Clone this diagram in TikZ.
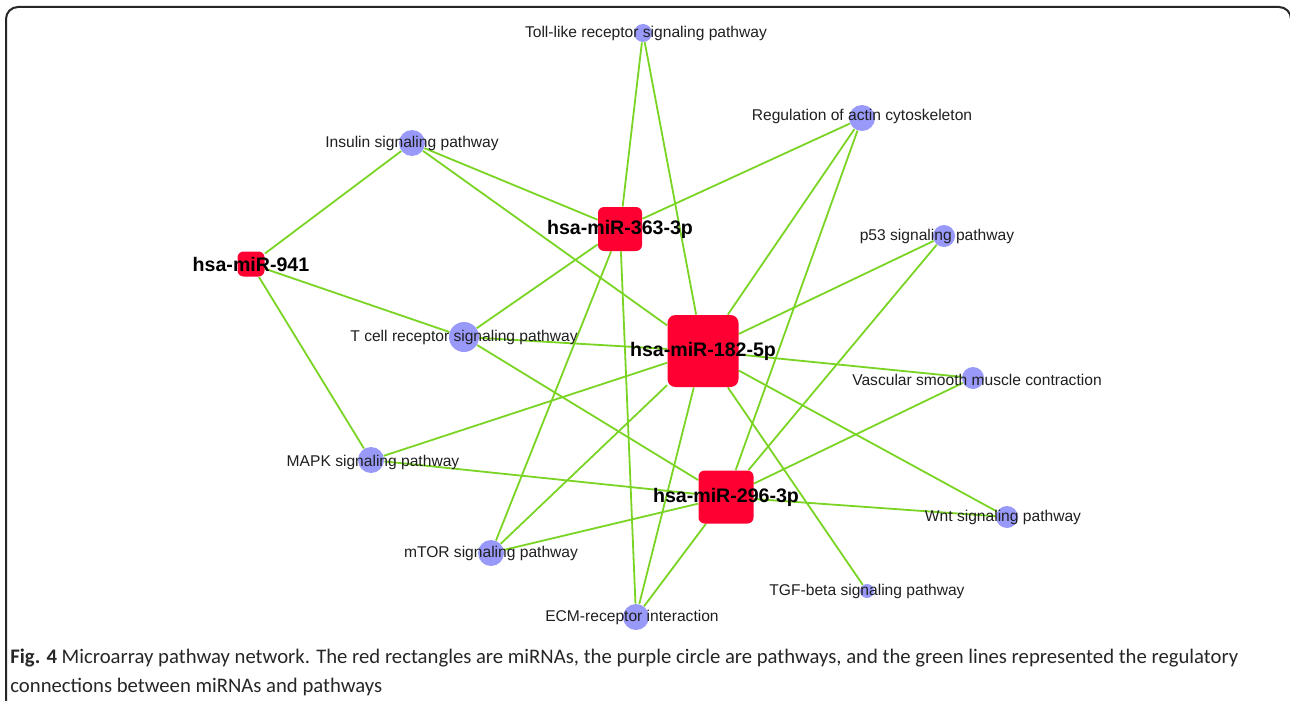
\documentclass[tikz,border=0pt]{standalone}
\usepackage{fontspec}
\setmainfont{Liberation Sans}
\newfontfamily\capfont{Carlito}
\usetikzlibrary{backgrounds}

\definecolor{mirred}{RGB}{255,0,51}
\definecolor{pathblue}{RGB}{153,153,250}
\definecolor{edgegreen}{RGB}{122,212,36}

\begin{document}
\begin{tikzpicture}[x=0.5pt,y=-0.5pt]
\tikzstyle{mirna}=[rectangle,rounded corners=3pt,fill=mirred,inner sep=0pt]
\tikzstyle{pathway}=[circle,fill=pathblue,inner sep=0pt]
\tikzstyle{mlabel}=[font=\bfseries\fontsize{9.8}{11}\selectfont,text=black]
\tikzstyle{plabel}=[font=\fontsize{7.8}{9}\selectfont,text=black!88]
\tikzstyle{link}=[draw=edgegreen,line width=0.9pt]
\clip (0,0) rectangle (1290,701);
\draw[rounded corners=6pt,line width=1pt,black!85] (6,7) rectangle (1291,720);
% miRNAs
\node[mirna,minimum width=13.5pt,minimum height=12.5pt,label={[mlabel]center:hsa-miR-941}] (m941) at (251,264) {};
\node[mirna,minimum size=22pt,label={[mlabel]center:hsa-miR-363-3p}] (m363) at (620,229) {};
\node[mirna,minimum width=35.5pt,minimum height=36pt,rounded corners=4pt,label={[mlabel]center:hsa-miR-182-5p}] (m182) at (703,351) {};
\node[mirna,minimum width=27.5pt,minimum height=26.5pt,label={[mlabel]center:hsa-miR-296-3p}] (m296) at (726,497) {};
% pathways
\node[pathway,minimum size=9pt,label={[plabel,xshift=1.5pt]center:Toll-like receptor signaling pathway}] (toll) at (643,33) {};
\node[pathway,minimum size=13pt,label={[plabel]center:Insulin signaling pathway}] (insulin) at (412,143) {};
\node[pathway,minimum size=13pt,label={[plabel,yshift=1pt]center:Regulation of actin cytoskeleton}] (actin) at (862,118) {};
\node[pathway,minimum size=11pt,label={[plabel,xshift=-3.5pt]center:p53 signaling pathway}] (p53) at (944,236) {};
\node[pathway,minimum size=11pt,label={[plabel,xshift=2pt,yshift=-1pt]center:Vascular smooth muscle contraction}] (vsm) at (973,378) {};
\node[pathway,minimum size=11pt,label={[plabel,xshift=-2pt]center:Wnt signaling pathway}] (wnt) at (1007,517) {};
\node[pathway,minimum size=7pt,label={[plabel]center:TGF-beta signaling pathway}] (tgf) at (867,591) {};
\node[pathway,minimum size=13pt,label={[plabel,xshift=1pt,yshift=-1pt]center:MAPK signaling pathway}] (mapk) at (371,460) {};
\node[pathway,minimum size=13pt,label={[plabel]center:mTOR signaling pathway}] (mtor) at (491,553) {};
\node[pathway,minimum size=13pt,label={[plabel,xshift=-2pt]center:ECM-receptor interaction}] (ecm) at (636,617) {};
\node[pathway,minimum size=15pt,label={[plabel]center:T cell receptor signaling pathway}] (tcell) at (464,337) {};
% connections
\begin{pgfonlayer}{background}
\draw[link] (m941) -- (insulin);
\draw[link] (m941) -- (tcell);
\draw[link] (m941) -- (mapk);
\draw[link] (m363) -- (toll);
\draw[link] (m363) -- (insulin);
\draw[link] (m363) -- (actin);
\draw[link] (m363) -- (tcell);
\draw[link] (m363) -- (mtor);
\draw[link] (m363) -- (ecm);
\draw[link] (m182) -- (insulin);
\draw[link] (m182) -- (toll);
\draw[link] (m182) -- (actin);
\draw[link] (m182) -- (p53);
\draw[link] (m182) -- (vsm);
\draw[link] (m182) -- (wnt);
\draw[link] (m182) -- (tgf);
\draw[link] (m182) -- (ecm);
\draw[link] (m182) -- (mtor);
\draw[link] (m182) -- (mapk);
\draw[link] (m182) -- (tcell);
\draw[link] (m296) -- (actin);
\draw[link] (m296) -- (p53);
\draw[link] (m296) -- (vsm);
\draw[link] (m296) -- (wnt);
\draw[link] (m296) -- (mapk);
\draw[link] (m296) -- (mtor);
\draw[link] (m296) -- (ecm);
\draw[link] (m296) -- (tcell);
\end{pgfonlayer}
% caption
\node[anchor=base west,inner sep=0pt,align=left,text=black!85,font=\capfont\fontsize{10.35}{14.5}\selectfont] (caption) at (10,692) {\textbf{Fig. 4} Microarray pathway network. The red rectangles are miRNAs, the purple circle are pathways, and the green lines represented the regulatory\\connections between miRNAs and pathways};
\end{tikzpicture}
\end{document}
